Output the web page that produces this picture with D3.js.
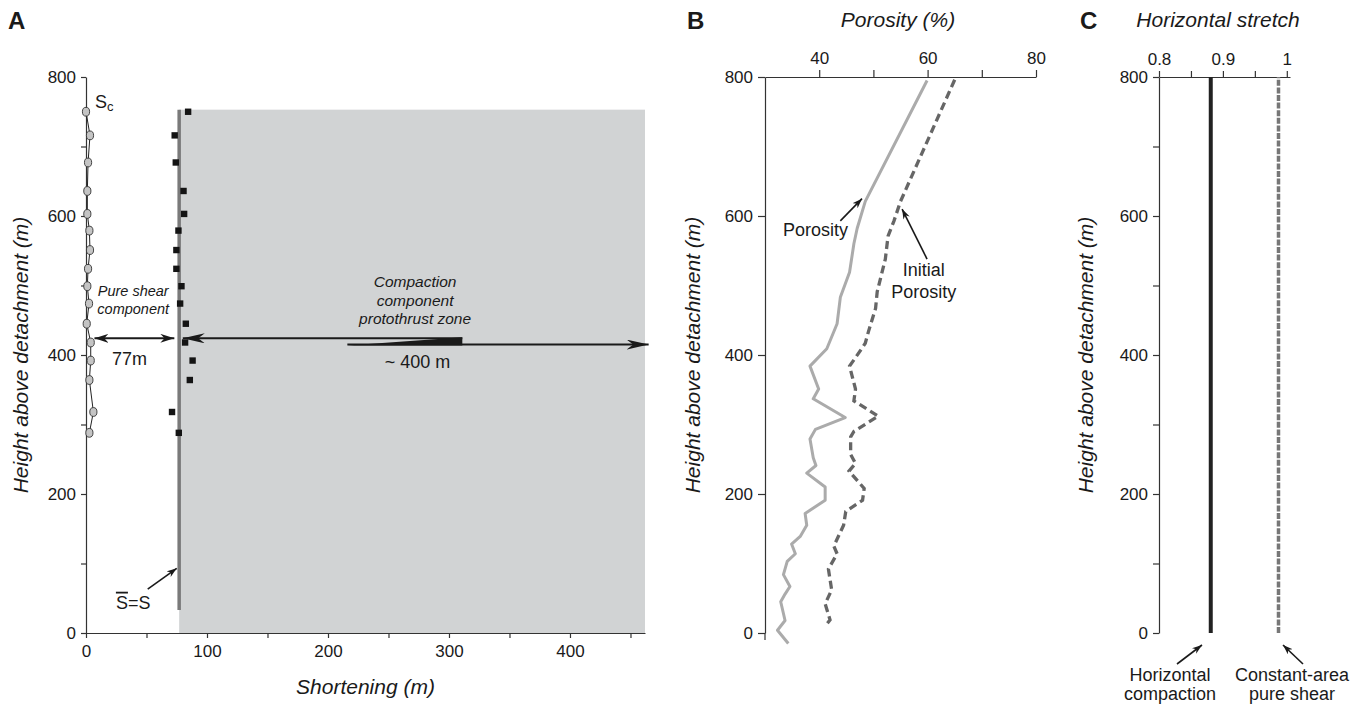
<!DOCTYPE html>
<html><head><meta charset="utf-8">
<script src="https://cdn.jsdelivr.net/npm/d3@7"></script>
<style>
body{margin:0;background:#fff}
text{font-family:"Liberation Sans",Arial,sans-serif;fill:#1a1a1a}
</style>
</head><body>
<svg id="chart" width="1363" height="705"></svg>
<script>
// ---------------- data ----------------
const heightTicksMajor = [0, 200, 400, 600, 800];
const heightTicksMinor = [0, 100, 200, 300, 400, 500, 600, 700, 800];
const shorteningTicks = [0, 50, 100, 150, 200, 250, 300, 350, 400, 450];
const shorteningLabels = [0, 100, 200, 300, 400];
const porosityTicks = [40, 50, 60, 70, 80];
const porosityLabels = [40, 60, 80];
const stretchTicks = [0.8, 0.85, 0.9, 0.95, 1];
const stretchLabels = [0.8, 0.9, 1];

// Panel A: Sc (circles) and S (squares)
const scHeight = [750, 716, 677, 636, 603, 579, 551, 524, 499, 474, 445, 418, 392, 364, 318, 288];
const scShortening = [0, 3.3, 1.7, 1.1, 1.1, 2.8, 3.3, 1.7, 1.1, 2.5, 0.6, 3.9, 3.9, 2.8, 6.1, 2.8];
const sHeight = [750, 716, 677, 636, 603, 579, 551, 524, 499, 474, 445, 418, 392, 364, 318, 288];
const sShortening = [84.4, 73.3, 74.2, 80.6, 81.1, 76.4, 74.7, 74.7, 78.9, 77.8, 82.5, 81.9, 88.1, 85.8, 71.1, 76.7];
const meanShortening = 77;          // S-bar = S line
const meanHeightRange = [33, 753];
const compactionShortening = 462;   // extent of grey protothrust zone
const arrowHeight = 424;

// Panel B: porosity profiles
const porosityHeight = [795, 621, 582, 560, 519, 483, 445, 409, 384, 351, 337, 310, 293, 279, 252, 241, 230, 210, 191, 172, 155, 139, 128, 114, 103, 84, 67, 56, 45, 18, 4, -15];
const porosityValue = [59.9, 48.5, 47.0, 46.4, 45.6, 43.9, 43.3, 41.4, 38.3, 39.9, 38.9, 44.8, 39.3, 38.3, 38.9, 39.4, 37.7, 41.1, 41.1, 37.4, 37.7, 36.5, 34.9, 35.6, 34.1, 33.4, 34.6, 33.7, 32.9, 33.7, 32.3, 34.3];
const initialHeight = [796, 621, 593, 571, 538, 491, 467, 434, 417, 403, 384, 351, 334, 312, 290, 282, 257, 244, 233, 208, 191, 175, 155, 125, 114, 92, 62, 42, 19, 10];
const initialValue = [65.0, 55.0, 53.8, 52.7, 52.2, 50.7, 50.4, 49.1, 48.5, 47.3, 45.6, 46.7, 46.4, 50.9, 46.4, 45.8, 45.8, 46.7, 45.5, 48.3, 48.0, 44.9, 44.5, 42.7, 43.3, 41.7, 42.3, 41.1, 42.0, 41.1];

// Panel C: horizontal stretch
const compactionStretch = 0.881;
const pureShearStretch = 0.987;
const stretchHeightRange = [0, 800];

// ---------------- drawing ----------------
const svg = d3.select("#chart");
const defs = svg.append("defs");
function marker(id, len, h) {
  defs.append("marker").attr("id", id)
    .attr("markerUnits", "userSpaceOnUse")
    .attr("markerWidth", len + 2).attr("markerHeight", h + 2)
    .attr("refX", len).attr("refY", h / 2)
    .attr("orient", "auto-start-reverse")
    .append("path")
    .attr("d", `M0,0 L${len},${h/2} L0,${h} L${len*0.3},${h/2} Z`)
    .attr("fill", "#1a1a1a");
}
marker("big", 22, 10);
marker("mid", 14, 9);
marker("small", 10, 7);

const axisColor = "#333";
function styleAxis(g, fs) {
  g.selectAll("path.domain").attr("stroke", axisColor).attr("stroke-width", 1.2);
  g.selectAll(".tick line").attr("stroke", axisColor).attr("stroke-width", 1.2);
  g.selectAll(".tick text").attr("font-size", fs).attr("fill", "#1a1a1a")
    .style("font-family", "'Liberation Sans', Arial, sans-serif");
}
function panelLetter(x, t) {
  svg.append("text").attr("x", x).attr("y", 29).attr("font-size", 24)
    .attr("font-weight", "bold").text(t);
}
function yTitle(x, y) {
  svg.append("text").attr("transform", `translate(${x},${y}) rotate(-90)`)
    .attr("text-anchor", "middle").attr("font-size", 21).attr("font-style", "italic")
    .text("Height above detachment (m)");
}

// ===== Panel A =====
const xA = d3.scaleLinear().domain([0, 462]).range([86, 645]);
const yA = d3.scaleLinear().domain([0, 800]).range([633, 77]);

// grey zone
svg.append("rect")
  .attr("x", xA(meanShortening)).attr("y", yA(meanHeightRange[1]))
  .attr("width", xA(compactionShortening) - xA(meanShortening))
  .attr("height", yA(0) - yA(meanHeightRange[1]))
  .attr("fill", "#d1d3d4");

const gAx = svg.append("g").attr("transform", `translate(0,${yA(0)})`)
  .call(d3.axisBottom(xA).tickValues(shorteningTicks).tickSize(5).tickSizeOuter(0).tickPadding(7)
    .tickFormat(d => shorteningLabels.includes(d) ? d : ""));
styleAxis(gAx, 17);
const gAy = svg.append("g").attr("transform", `translate(${xA(0)},0)`)
  .call(d3.axisLeft(yA).tickValues(heightTicksMinor).tickSize(5).tickSizeOuter(0).tickPadding(5)
    .tickFormat(d => heightTicksMajor.includes(d) ? d : ""));
styleAxis(gAy, 17);

// mean line
svg.append("line")
  .attr("x1", xA(meanShortening)).attr("x2", xA(meanShortening))
  .attr("y1", yA(meanHeightRange[0])).attr("y2", yA(meanHeightRange[1]))
  .attr("stroke", "#7a7a7a").attr("stroke-width", 3.5);

// Sc line + circles
svg.append("path").datum(scHeight.map((h, i) => [scShortening[i], h]))
  .attr("d", d3.line().x(d => xA(d[0])).y(d => yA(d[1])))
  .attr("fill", "none").attr("stroke", "#222").attr("stroke-width", 1);
svg.selectAll(".sc").data(scHeight.map((h, i) => [scShortening[i], h])).enter()
  .append("ellipse").attr("cx", d => xA(d[0])).attr("cy", d => yA(d[1]))
  .attr("rx", 3.6).attr("ry", 4.4).attr("fill", "#c4c4c4").attr("stroke", "#333").attr("stroke-width", 0.9);

// squares
svg.selectAll(".sq").data(sHeight.map((h, i) => [sShortening[i], h])).enter()
  .append("rect").attr("x", d => xA(d[0]) - 3.2).attr("y", d => yA(d[1]) - 3.2)
  .attr("width", 6.4).attr("height", 6.4).attr("fill", "#141414");

// labels
const sc = svg.append("text").attr("x", xA(0) + 9).attr("y", yA(scHeight[0]) - 4).attr("font-size", 18);
sc.append("tspan").text("S");
sc.append("tspan").attr("font-size", 13).attr("dy", 3).text("c");

// 77 m arrow
svg.append("line").attr("x1", xA(7)).attr("x2", xA(73))
  .attr("y1", yA(arrowHeight)).attr("y2", yA(arrowHeight))
  .attr("stroke", "#1a1a1a").attr("stroke-width", 2)
  .attr("marker-start", "url(#mid)").attr("marker-end", "url(#mid)");
svg.append("text").attr("x", xA(36)).attr("y", yA(arrowHeight) + 27)
  .attr("text-anchor", "middle").attr("font-size", 18).text(meanShortening + "m");
const ps = svg.append("text").attr("text-anchor", "middle").attr("font-size", 14.5).attr("font-style", "italic");
ps.append("tspan").attr("x", xA(39)).attr("y", yA(492) + 5).text("Pure shear");
ps.append("tspan").attr("x", xA(39)).attr("y", yA(466) + 5).text("component");

// big compaction arrow
const upY = yA(arrowHeight), loY = yA(415);
svg.append("line").attr("x1", xA(80)).attr("x2", xA(311)).attr("y1", upY).attr("y2", upY)
  .attr("stroke", "#1a1a1a").attr("stroke-width", 2).attr("marker-start", "url(#big)");
svg.append("line").attr("x1", xA(216)).attr("x2", xA(465)).attr("y1", loY).attr("y2", loY)
  .attr("stroke", "#1a1a1a").attr("stroke-width", 2).attr("marker-end", "url(#big)");
svg.append("path")
  .attr("d", `M${xA(216)},${loY + 1} L${xA(311)},${upY - 1} L${xA(311)},${loY + 1} Z`)
  .attr("fill", "#1a1a1a");
const cp = svg.append("text").attr("text-anchor", "middle").attr("font-size", 15.5).attr("font-style", "italic");
cp.append("tspan").attr("x", xA(272)).attr("y", yA(505) + 5).text("Compaction");
cp.append("tspan").attr("x", xA(272)).attr("y", yA(478) + 5).text("component");
cp.append("tspan").attr("x", xA(272)).attr("y", yA(452) + 5).text("protothrust zone");
svg.append("text").attr("x", xA(274)).attr("y", yA(390) + 6).attr("text-anchor", "middle")
  .attr("font-size", 18).text("~ 400 m");

// S-bar = S
const sb = svg.append("text").attr("x", xA(39)).attr("y", yA(45) + 7).attr("text-anchor", "middle").attr("font-size", 18);
sb.append("tspan").style("text-decoration", "overline").text("S");
sb.append("tspan").text("=S");
svg.append("line").attr("x1", xA(51)).attr("y1", yA(63)).attr("x2", xA(75)).attr("y2", yA(93))
  .attr("stroke", "#1a1a1a").attr("stroke-width", 1.6).attr("marker-end", "url(#small)");

svg.append("text").attr("x", (xA(0) + xA(462)) / 2).attr("y", 694).attr("text-anchor", "middle")
  .attr("font-size", 21).attr("font-style", "italic").text("Shortening (m)");
yTitle(28, 355);
panelLetter(8, "A");

// ===== Panel B =====
const xB = d3.scaleLinear().domain([30, 80]).range([765, 1036]);
const yB = d3.scaleLinear().domain([0, 800]).range([633, 77]);
const gBx = svg.append("g").attr("transform", `translate(0,${yB(800)})`)
  .call(d3.axisTop(xB).tickValues(porosityTicks).tickSize(7).tickSizeOuter(0).tickPadding(6)
    .tickFormat(d => porosityLabels.includes(d) ? d : ""));
styleAxis(gBx, 17);
const gBy = svg.append("g").attr("transform", `translate(${xB(30)},0)`)
  .call(d3.axisLeft(yB).tickValues(heightTicksMajor).tickSize(7).tickSizeOuter(0).tickPadding(5));
styleAxis(gBy, 17);
svg.append("line").attr("x1", xB(30)).attr("x2", xB(30)).attr("y1", yB(0)).attr("y2", yB(0) + 7)
  .attr("stroke", axisColor).attr("stroke-width", 1.2);

svg.append("path").datum(porosityHeight.map((h, i) => [porosityValue[i], h]))
  .attr("d", d3.line().x(d => xB(d[0])).y(d => yB(d[1])))
  .attr("fill", "none").attr("stroke", "#ababab").attr("stroke-width", 3).attr("stroke-linejoin", "round");
svg.append("path").datum(initialHeight.map((h, i) => [initialValue[i], h]))
  .attr("d", d3.line().x(d => xB(d[0])).y(d => yB(d[1])))
  .attr("fill", "none").attr("stroke", "#666").attr("stroke-width", 3.3)
  .attr("stroke-dasharray", "8,4.5");

svg.append("text").attr("x", xB(39.3)).attr("y", yB(580) + 6).attr("text-anchor", "middle")
  .attr("font-size", 18).text("Porosity");
svg.append("line").attr("x1", xB(43.9)).attr("y1", yB(593)).attr("x2", xB(47.9)).attr("y2", yB(625))
  .attr("stroke", "#1a1a1a").attr("stroke-width", 1.6).attr("marker-end", "url(#small)");
const ip = svg.append("text").attr("text-anchor", "middle").attr("font-size", 18);
ip.append("tspan").attr("x", xB(59.3)).attr("y", yB(523) + 6).text("Initial");
ip.append("tspan").attr("x", xB(59.3)).attr("y", yB(490) + 6).text("Porosity");
svg.append("line").attr("x1", xB(59.9)).attr("y1", yB(538)).attr("x2", xB(55.3)).attr("y2", yB(610))
  .attr("stroke", "#1a1a1a").attr("stroke-width", 1.6).attr("marker-end", "url(#small)");

svg.append("text").attr("x", 898).attr("y", 27).attr("text-anchor", "middle")
  .attr("font-size", 21).attr("font-style", "italic").text("Porosity (%)");
yTitle(700, 355);
panelLetter(687, "B");

// ===== Panel C =====
const xC = d3.scaleLinear().domain([0.8, 1.005]).range([1159, 1290]);
const yC = d3.scaleLinear().domain([0, 800]).range([633, 77]);
const gCx = svg.append("g").attr("transform", `translate(0,${yC(800)})`)
  .call(d3.axisTop(xC).tickValues(stretchTicks).tickSize(6).tickSizeOuter(0).tickPadding(6)
    .tickFormat(d => stretchLabels.includes(d) ? String(d) : ""));
styleAxis(gCx, 17);
const gCy = svg.append("g").attr("transform", `translate(${xC(0.8)},0)`)
  .call(d3.axisLeft(yC).tickValues(heightTicksMinor).tickSize(6).tickSizeOuter(0).tickPadding(5)
    .tickFormat(d => heightTicksMajor.includes(d) ? d : ""));
styleAxis(gCy, 17);

svg.append("line").attr("x1", xC(compactionStretch)).attr("x2", xC(compactionStretch))
  .attr("y1", yC(stretchHeightRange[0])).attr("y2", yC(stretchHeightRange[1]))
  .attr("stroke", "#222").attr("stroke-width", 4);
svg.append("line").attr("x1", xC(pureShearStretch)).attr("x2", xC(pureShearStretch))
  .attr("y1", yC(stretchHeightRange[0])).attr("y2", yC(stretchHeightRange[1]))
  .attr("stroke", "#777").attr("stroke-width", 3.5).attr("stroke-dasharray", "6,1.6");

svg.append("line").attr("x1", 1177).attr("y1", 664).attr("x2", 1202).attr("y2", 645)
  .attr("stroke", "#1a1a1a").attr("stroke-width", 1.6).attr("marker-end", "url(#small)");
svg.append("line").attr("x1", 1303).attr("y1", 664).attr("x2", 1283).attr("y2", 645)
  .attr("stroke", "#1a1a1a").attr("stroke-width", 1.6).attr("marker-end", "url(#small)");
const hc = svg.append("text").attr("text-anchor", "middle").attr("font-size", 18);
hc.append("tspan").attr("x", 1170).attr("y", 681).text("Horizontal");
hc.append("tspan").attr("x", 1170).attr("y", 700).text("compaction");
const cs = svg.append("text").attr("text-anchor", "middle").attr("font-size", 18);
cs.append("tspan").attr("x", 1292).attr("y", 681).text("Constant-area");
cs.append("tspan").attr("x", 1292).attr("y", 700).text("pure shear");

svg.append("text").attr("x", 1218).attr("y", 27).attr("text-anchor", "middle")
  .attr("font-size", 21).attr("font-style", "italic").text("Horizontal stretch");
yTitle(1093, 355);
panelLetter(1080, "C");
</script>
</body></html>
